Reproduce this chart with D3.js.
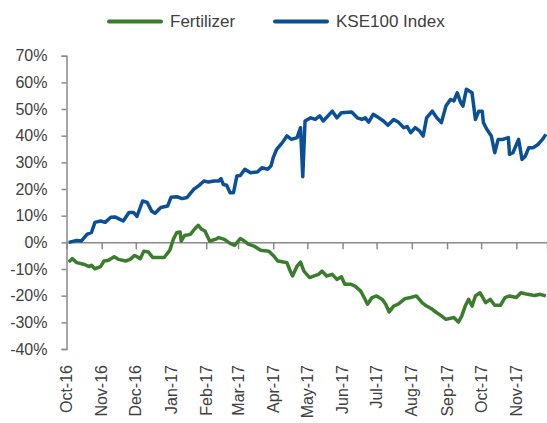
<!DOCTYPE html>
<html>
<head>
<meta charset="utf-8">
<script src="https://cdn.jsdelivr.net/npm/d3@7"></script>
<style>
  body { margin: 0; background: #fff; }
  svg { display: block; font-family: "Liberation Sans", Arial, sans-serif; }
</style>
</head>
<body>
<svg id="chart" width="547" height="423"></svg>
<script>
// KSE100 Index cumulative return (%)
const kseDates = ['2016-10-03','2016-10-10','2016-10-14','2016-10-19','2016-10-23','2016-10-26','2016-10-31',
  '2016-11-04','2016-11-09','2016-11-13','2016-11-17','2016-11-20','2016-11-25','2016-11-29',
  '2016-12-02','2016-12-07','2016-12-11','2016-12-15','2016-12-18','2016-12-23','2016-12-29',
  '2017-01-01','2017-01-06','2017-01-11','2017-01-15','2017-01-21','2017-01-25','2017-01-30',
  '2017-02-03','2017-02-08','2017-02-12','2017-02-14','2017-02-16','2017-02-19','2017-02-22','2017-02-25','2017-02-28',
  '2017-03-03','2017-03-07','2017-03-12','2017-03-18','2017-03-22','2017-03-27','2017-03-30',
  '2017-04-01','2017-04-04','2017-04-09','2017-04-13','2017-04-17','2017-04-22','2017-04-25','2017-04-27','2017-04-29',
  '2017-05-04','2017-05-08','2017-05-12','2017-05-15','2017-05-23','2017-05-27','2017-05-31',
  '2017-06-09','2017-06-14','2017-06-18','2017-06-21','2017-06-24','2017-06-28',
  '2017-07-03','2017-07-07','2017-07-11','2017-07-16','2017-07-20','2017-07-25','2017-07-28','2017-07-31',
  '2017-08-04','2017-08-08','2017-08-11','2017-08-14','2017-08-19','2017-08-23','2017-08-27','2017-08-31',
  '2017-09-04','2017-09-07','2017-09-10','2017-09-13','2017-09-15','2017-09-18','2017-09-23','2017-09-26','2017-09-29',
  '2017-10-02','2017-10-03','2017-10-06','2017-10-10','2017-10-13','2017-10-16','2017-10-20','2017-10-25','2017-10-26','2017-10-29',
  '2017-11-03','2017-11-06','2017-11-09','2017-11-12','2017-11-16','2017-11-20','2017-11-24','2017-11-27']
const kseValues = [0.0, 0.7, 0.5, 3.0, 3.7, 7.5, 8.0,
  7.5, 9.4, 9.5, 8.6, 8.0, 11.2, 11.2,
  9.7, 15.5, 15.0, 11.7, 10.9, 13.1, 13.6,
  16.9, 17.1, 16.4, 16.8, 19.9, 21.1, 23.0,
  22.6, 23.0, 23.0, 23.9, 21.7, 21.4, 18.6, 18.6, 24.9,
  25.1, 27.4, 26.1, 26.4, 28.0, 27.4, 28.6,
  31.8, 34.9, 37.4, 39.9, 38.6, 39.3, 43.0, 24.6, 45.5,
  46.7, 46.1, 47.4, 45.5, 49.2, 46.7, 48.6,
  48.9, 46.7, 46.1, 46.7, 45.1, 48.0,
  46.7, 45.5, 43.9, 46.1, 45.1, 43.0, 43.4, 41.1,
  43.0, 41.7, 39.9, 46.7, 49.2, 46.7, 44.9, 51.1,
  53.6, 53.0, 56.1, 52.4, 51.1, 57.4, 56.1, 46.1, 49.2,
  49.2, 44.9, 42.4, 39.9, 33.6, 38.6, 38.6, 39.3, 33.0, 33.6,
  38.6, 31.1, 32.4, 35.5, 35.5, 36.7, 38.6, 40.5]

// Fertilizer sector cumulative return (%)
const fertDates = ['2016-10-03','2016-10-06','2016-10-10','2016-10-16','2016-10-21','2016-10-23','2016-10-26','2016-10-31',
  '2016-11-03','2016-11-07','2016-11-12','2016-11-16','2016-11-22','2016-11-26','2016-11-30',
  '2016-12-05','2016-12-08','2016-12-12','2016-12-16','2016-12-26','2016-12-31',
  '2017-01-03','2017-01-06','2017-01-09','2017-01-10','2017-01-13','2017-01-18','2017-01-22','2017-01-25','2017-01-28','2017-01-31',
  '2017-02-04','2017-02-09','2017-02-12','2017-02-17','2017-02-22','2017-02-26',
  '2017-03-03','2017-03-06','2017-03-10','2017-03-15','2017-03-21','2017-03-28',
  '2017-04-01','2017-04-05','2017-04-10','2017-04-13','2017-04-16','2017-04-18','2017-04-22','2017-04-25','2017-04-28',
  '2017-05-03','2017-05-07','2017-05-11','2017-05-14','2017-05-18','2017-05-23','2017-05-27','2017-05-31',
  '2017-06-03','2017-06-08','2017-06-12','2017-06-17','2017-06-20','2017-06-23','2017-06-27',
  '2017-07-01','2017-07-06','2017-07-09','2017-07-12','2017-07-16','2017-07-20','2017-07-26','2017-07-31',
  '2017-08-05','2017-08-10','2017-08-14','2017-08-19','2017-08-23','2017-08-27','2017-08-31',
  '2017-09-07','2017-09-11','2017-09-14','2017-09-17','2017-09-20','2017-09-23','2017-09-26','2017-09-30',
  '2017-10-05','2017-10-09','2017-10-13','2017-10-18','2017-10-22','2017-10-26',
  '2017-11-01','2017-11-05','2017-11-11','2017-11-17','2017-11-22','2017-11-27']
const fertValues = [-7.4, -6.1, -7.6, -8.2, -9.1, -8.6, -9.9, -9.1,
  -7.0, -6.7, -5.4, -6.4, -7.0, -6.4, -4.9,
  -6.1, -3.3, -3.6, -5.7, -5.7, -2.9,
  1.1, 3.6, 3.9, 0.5, 2.6, 3.0, 5.1, 6.4, 4.9, 4.2,
  0.5, 1.1, 1.8, 1.1, -0.4, -1.1,
  1.4, 0.7, -0.7, -1.4, -3.0, -3.3,
  -4.9, -7.0, -7.4, -7.6, -10.8, -12.6, -8.9, -7.4, -10.8,
  -13.2, -12.6, -12.0, -10.8, -12.6, -12.0, -13.9, -12.9,
  -15.7, -15.7, -16.4, -18.3, -20.7, -23.2, -20.7,
  -20.1, -21.4, -23.2, -26.1, -23.9, -23.2, -21.1, -20.7,
  -20.1, -22.6, -23.9, -25.1, -26.4, -27.6, -28.9,
  -28.2, -29.9, -27.6, -23.9, -21.4, -23.9, -20.1, -18.9,
  -22.6, -21.4, -23.6, -23.6, -20.7, -20.1,
  -20.7, -18.9, -19.5, -19.9, -19.5, -20.1]

const yTicks = [-40, -30, -20, -10, 0, 10, 20, 30, 40, 50, 60, 70]
const seriesNames = ['Fertilizer', 'KSE100 Index']
const seriesColors = ['#3a7d2c', '#0b4f94']

const parse = d3.timeParse('%Y-%m-%d')
const fert = fertDates.map((d, i) => ({ date: parse(d), value: fertValues[i] }))
const kse = kseDates.map((d, i) => ({ date: parse(d), value: kseValues[i] }))

const svg = d3.select('#chart')
const axisColor = '#8a8a8a'
const textColor = '#404040'

const x = d3.scaleTime()
  .domain([parse('2016-10-01'), parse('2017-11-28')])
  .range([66.5, 547])

const y = d3.scaleLinear()
  .domain([-40, 70])
  .range([349, 55.7])

// y axis
const yAxis = svg.append('g')
  .attr('transform', 'translate(66.5,0)')
  .call(d3.axisLeft(y).tickValues(yTicks).tickSize(5).tickPadding(14).tickFormat(d => d + '%'))
yAxis.select('.domain').attr('stroke', axisColor).attr('stroke-width', 1.5)
yAxis.selectAll('.tick line').attr('stroke', axisColor).attr('stroke-width', 1.5)
yAxis.selectAll('.tick text')
  .attr('fill', textColor)
  .attr('font-size', 16)
  .attr('font-family', '"Liberation Sans", Arial, sans-serif')

// x axis on the zero line, labels at the bottom
const months = d3.timeMonth.range(parse('2016-10-01'), parse('2017-11-02'))
const xAxis = svg.append('g')
  .attr('transform', `translate(0,${y(0)})`)
  .call(d3.axisBottom(x).tickValues(months.slice(1)).tickSize(7).tickFormat(''))
xAxis.select('.domain').attr('stroke', axisColor).attr('stroke-width', 1.5)
xAxis.selectAll('.tick line').attr('stroke', axisColor).attr('stroke-width', 1.5)

const fmt = d3.timeFormat('%b-%y')
svg.append('g')
  .selectAll('text')
  .data(months)
  .join('text')
  .attr('transform', d => `translate(${x(d)},365) rotate(-90)`)
  .attr('text-anchor', 'end')
  .attr('dy', '0.35em')
  .attr('fill', textColor)
  .attr('font-size', 16)
  .text(d => fmt(d))

// lines
const line = d3.line()
  .x(d => x(d.date))
  .y(d => y(d.value))

svg.append('path')
  .datum(fert)
  .attr('fill', 'none')
  .attr('stroke', seriesColors[0])
  .attr('stroke-width', 3.5)
  .attr('stroke-linejoin', 'round')
  .attr('d', line)

svg.append('path')
  .datum(kse)
  .attr('fill', 'none')
  .attr('stroke', seriesColors[1])
  .attr('stroke-width', 3.5)
  .attr('stroke-linejoin', 'round')
  .attr('d', line)

// legend
const legendX = [109, 275]
const legend = svg.append('g')
  .selectAll('g')
  .data(seriesNames)
  .join('g')
  .attr('transform', (d, i) => `translate(${legendX[i]},21.5)`)

legend.append('line')
  .attr('x1', 0).attr('x2', 52)
  .attr('stroke', (d, i) => seriesColors[i])
  .attr('stroke-width', 4)
  .attr('stroke-linecap', 'round')

legend.append('text')
  .attr('x', 61)
  .attr('dy', '0.35em')
  .attr('fill', textColor)
  .attr('font-size', 17)
  .text(d => d)
</script>
</body>
</html>
